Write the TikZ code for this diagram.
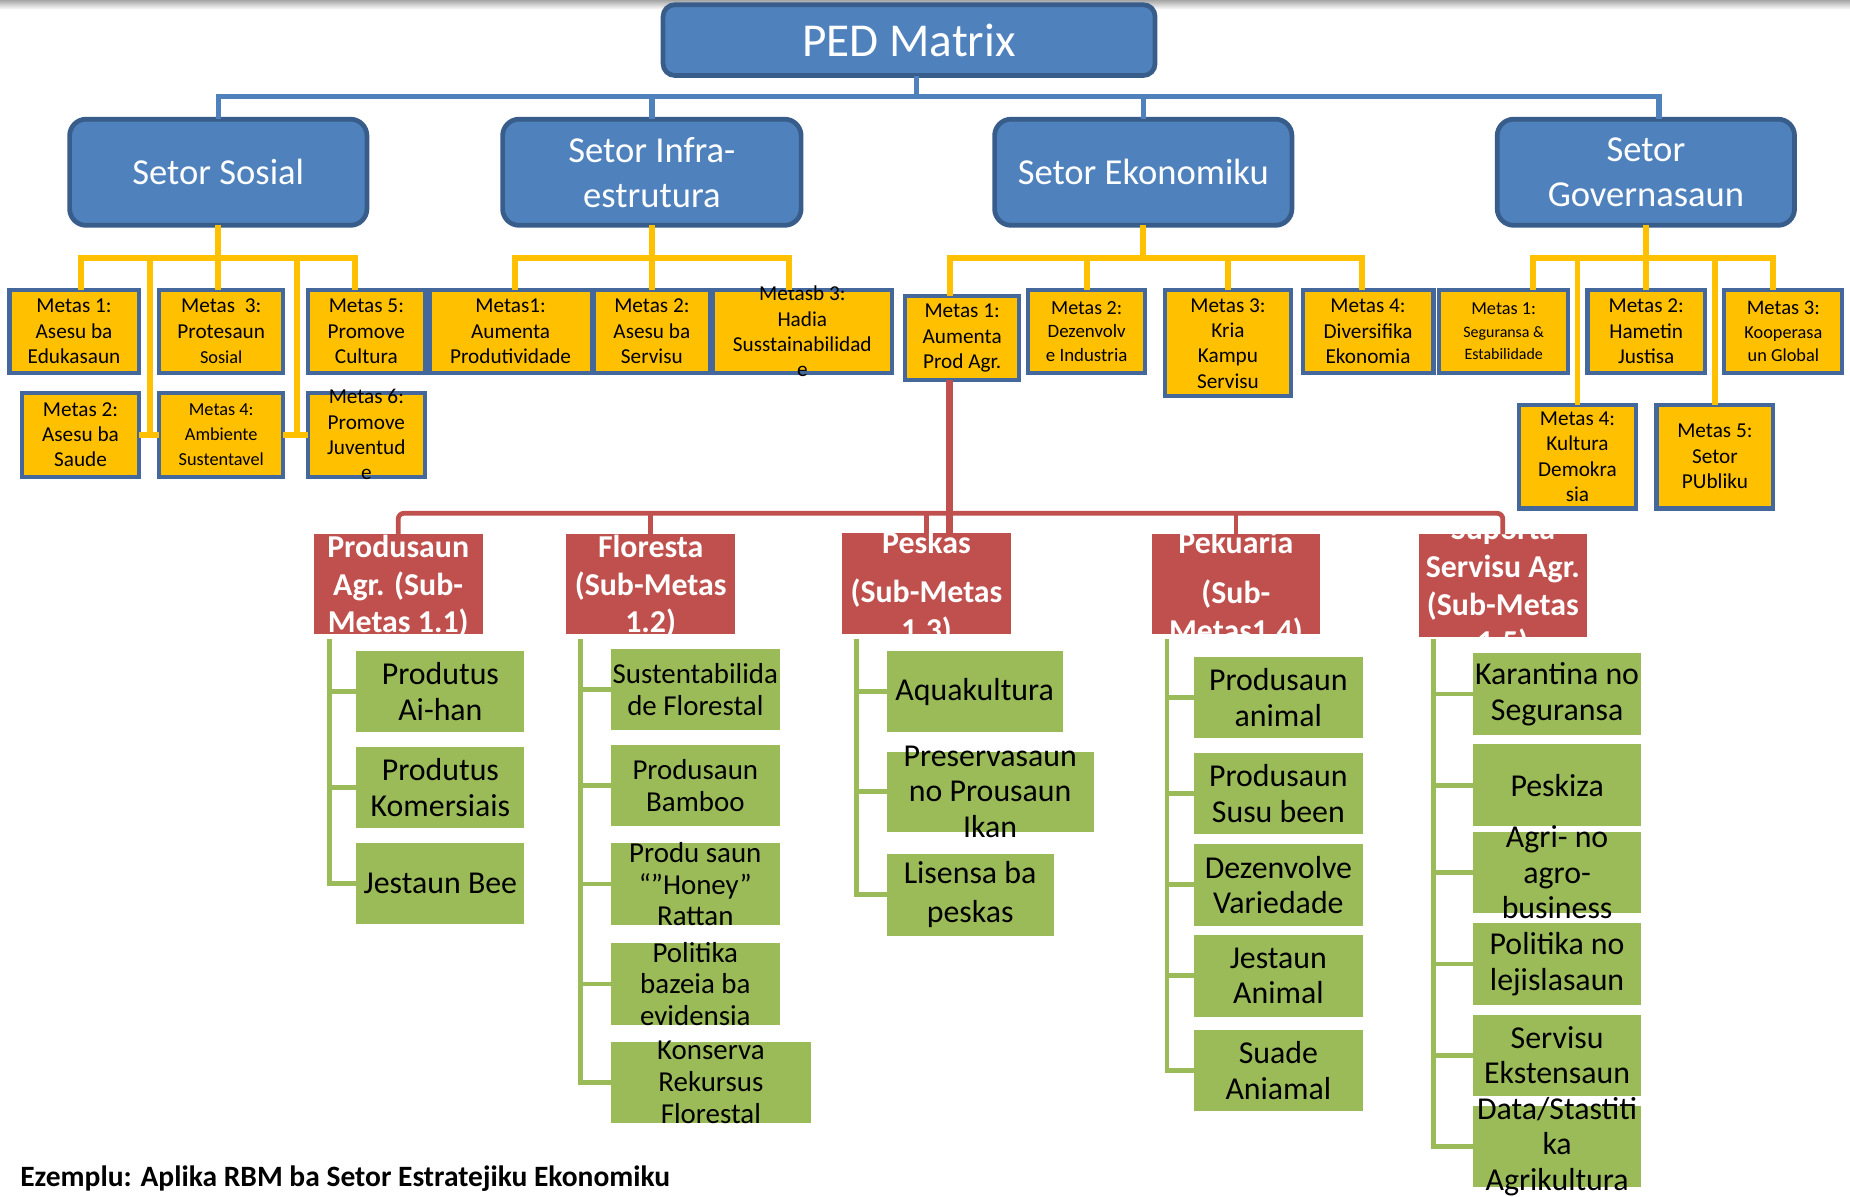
\documentclass[tikz,border=0pt]{standalone}
\usepackage{fontspec}
\setmainfont{Carlito}
\definecolor{blueC}{HTML}{4F81BD}
\definecolor{blueD}{HTML}{385D8A}
\definecolor{yelC}{HTML}{FFC000}
\definecolor{yelB}{HTML}{44689C}
\definecolor{redC}{HTML}{C0504D}
\definecolor{greenC}{HTML}{9BBB59}
\newcommand\mkbox[6]{%
 \pgfmathsetmacro\mkw{#5-#3}%
 \pgfmathsetmacro\mkh{#6-#4}%
 \pgfmathsetmacro\mkx{(#3+#5)/2}%
 \pgfmathsetmacro\mky{-(#4+#6)/2}%
 \node[#1,minimum width=\mkw pt,minimum height=\mkh pt,inner sep=0pt,outer sep=0pt] (#2) at (\mkx pt,\mky pt) {};}
\newcommand\mktext[3]{\node[#1] (#2t) at (#2) {#3};}
\newcommand\mkclip[3]{\begin{scope}\clip (#2.south west) rectangle (#2.north east);\node[#1] (#2t) at (#2) {#3};\end{scope}}
\begin{document}
\begin{tikzpicture}[x=1pt,y=1pt,
 bluebox/.style={draw=blueD,line width=4pt,fill=blueC,rounded corners=14pt},
 ybox/.style={draw=yelB,line width=3.5pt,fill=yelC},
 rbox/.style={fill=redC},
 gbox/.style={fill=greenC},
 ytxt/.style={align=center,font=\fontsize{18}{21.5}\selectfont,inner sep=0pt},
 gtxt/.style={align=center,font=\fontsize{27}{30}\selectfont,inner sep=0pt},
 ftxt/.style={align=center,font=\fontsize{24.5}{27}\selectfont,inner sep=0pt},
 rtxt/.style={align=center,text=white,font=\bfseries\fontsize{27}{32}\selectfont,inner sep=0pt},
 btxt/.style={align=center,text=white,font=\fontsize{31}{38}\selectfont,inner sep=0pt},
 bcon/.style={draw=blueC,line width=4.5pt},
 ycon/.style={draw=yelC,line width=5pt},
 rcon/.style={draw=redC,line width=4pt},
 gcon/.style={draw=greenC,line width=4pt}]
\useasboundingbox (0,0) rectangle (1568,-1014);
\clip (0,0) rectangle (1568,-1014);
\fill[white] (0,0) rectangle (1568,-1014);
\shade[top color=black!35,bottom color=white] (0,0) rectangle (1568,-8);
% blue boxes
\mkbox{bluebox,rounded corners=10pt}{ped}{562}{4}{979}{64}
\mkbox{bluebox}{sosial}{59}{101}{311}{191}
\mkbox{bluebox}{infra}{426}{101}{679}{191}
\mkbox{bluebox}{ekon}{843}{101}{1095}{191}
\mkbox{bluebox}{gov}{1269}{101}{1521}{191}
\mktext{btxt,font=\fontsize{40}{44}\selectfont}{ped}{PED Matrix}
\mktext{btxt}{sosial}{Setor Sosial}
\mktext{btxt}{infra}{Setor Infra-\\estrutura}
\mktext{btxt}{ekon}{Setor Ekonomiku}
\mktext{btxt}{gov}{Setor\\Governasaun}
% yellow boxes
\mkbox{ybox}{s1}{8}{246}{117.5}{316}
\mkbox{ybox}{s3}{135}{246}{240}{316}
\mkbox{ybox}{s5}{261}{246}{360}{316}
\mkbox{ybox}{s2}{19}{333}{117.5}{404}
\mkbox{ybox}{s4}{135}{333}{240}{404}
\mkbox{ybox}{s6}{261}{333}{360}{404}
\mkbox{ybox}{i1}{364}{246}{501.5}{316}
\mkbox{ybox}{i2}{503.5}{246}{601.5}{316}
\mkbox{ybox}{i3}{604}{246}{756}{316}
\mkbox{ybox}{e1}{767}{251}{864}{322}
\mkbox{ybox}{e2}{871.5}{246}{970.5}{316}
\mkbox{ybox}{e3}{987.5}{246}{1094}{336}
\mkbox{ybox}{e4}{1104}{246}{1215}{316}
\mkbox{ybox}{g1}{1220}{246}{1329}{316}
\mkbox{ybox}{g2}{1345.5}{246}{1445}{316}
\mkbox{ybox}{g3}{1461.5}{246}{1561.5}{316}
\mkbox{ybox}{g4}{1287.5}{343}{1386.5}{431}
\mkbox{ybox}{g5}{1404}{343}{1503}{431}
\mktext{ytxt}{s1}{Metas 1:\\Asesu ba\\Edukasaun}
\mktext{ytxt}{s3}{Metas\ \ 3:\\Protesaun\\{\fontsize{15.5}{18}\selectfont Sosial}}
\mktext{ytxt}{s5}{Metas 5:\\Promove\\Cultura}
\mktext{ytxt}{s2}{Metas 2:\\Asesu ba\\Saude}
\mktext{ytxt,font=\fontsize{15.5}{21}\selectfont}{s4}{Metas 4:\\Ambiente\\Sustentavel}
\mktext{ytxt}{s6}{Metas 6:\\Promove\\Juventud\\e}
\mktext{ytxt}{i1}{Metas1:\\Aumenta\\Produtividade}
\mktext{ytxt}{i2}{Metas 2:\\Asesu ba\\Servisu}
\mktext{ytxt}{i3}{Metasb 3:\\Hadia\\Susstainabilidad\\e}
\mktext{ytxt}{e1}{Metas 1:\\Aumenta\\Prod Agr.}
\mktext{ytxt,font=\fontsize{16}{20}\selectfont}{e2}{{\fontsize{17}{20}\selectfont Metas 2:}\\Dezenvolv\\e Industria}
\mktext{ytxt}{e3}{Metas 3:\\Kria\\Kampu\\Servisu}
\mktext{ytxt}{e4}{Metas 4:\\Diversifika\\Ekonomia}
\mktext{ytxt,font=\fontsize{13.5}{19}\selectfont}{g1}{{\fontsize{15.5}{19}\selectfont Metas 1:}\\Seguransa \&\\Estabilidade}
\mktext{ytxt}{g2}{Metas 2:\\Hametin\\Justisa}
\mktext{ytxt,font=\fontsize{15.5}{20}\selectfont}{g3}{{\fontsize{17.5}{20}\selectfont Metas 3:}\\Kooperasa\\un Global}
\mktext{ytxt}{g4}{Metas 4:\\Kultura\\Demokra\\sia}
\mktext{ytxt}{g5}{Metas 5:\\Setor\\PUbliku}
% red boxes
\mkbox{rbox}{r1}{266}{453}{409}{537}
\mkbox{rbox}{r2}{480}{453}{623}{537}
\mkbox{rbox}{r3}{713.5}{452}{857}{537}
\mkbox{rbox}{r4}{976}{453}{1119}{537}
\mkbox{rbox}{r5}{1202.5}{453}{1345}{540}
\mkclip{rtxt,yshift=-2pt}{r1}{Produsaun\\Agr. (Sub-\\Metas 1.1)}
\mkclip{rtxt,yshift=-2pt}{r2}{Floresta\\(Sub-Metas\\1.2)}
\mkclip{rtxt,yshift=-4pt}{r3}{Peskas\\[10pt](Sub-Metas\\1.3)}
\mkclip{rtxt,yshift=-4pt}{r4}{Pekuaria\\[10pt](Sub-\\Metas1.4)}
\mkclip{rtxt,yshift=-2pt}{r5}{Suporta\\Servisu Agr.\\(Sub-Metas\\1.5)}
% green boxes
\mkbox{gbox}{p1}{302}{552}{444.5}{620.6}
\mkbox{gbox}{p2}{302}{633}{444.5}{702}
\mkbox{gbox}{p3}{302}{714.5}{444.5}{783}
\mkbox{gbox}{f1}{518}{550}{660.7}{619}
\mkbox{gbox}{f2}{518}{631.5}{660.7}{700}
\mkbox{gbox}{f3}{518}{714.7}{660.7}{784}
\mkbox{gbox}{f4}{518}{799.4}{660.7}{868.6}
\mkbox{gbox}{f5}{518}{882.8}{687}{952}
\mkbox{gbox}{k1}{751.5}{551.7}{900.7}{620.6}
\mkbox{gbox}{k2}{751.5}{637}{927}{705}
\mkbox{gbox}{k3}{751.5}{723.7}{893}{793}
\mkbox{gbox}{l1}{1012}{556.5}{1155}{625.7}
\mkbox{gbox}{l2}{1012}{638}{1155}{707}
\mkbox{gbox}{l3}{1012}{715.3}{1155}{784.5}
\mkbox{gbox}{l4}{1012}{792.4}{1155}{861.6}
\mkbox{gbox}{l5}{1012}{873}{1155}{942}
\mkbox{gbox}{t1}{1248.5}{553.7}{1391}{622.9}
\mkbox{gbox}{t2}{1248.5}{631}{1391}{700}
\mkbox{gbox}{t3}{1248.5}{704.8}{1391}{774}
\mkbox{gbox}{t4}{1248.5}{782.5}{1391}{851.7}
\mkbox{gbox}{t5}{1248.5}{860}{1391}{928.8}
\mkbox{gbox}{t6}{1248.5}{937.3}{1391}{1006}
\mktext{gtxt}{p1}{Produtus\\Ai-han}
\mktext{gtxt}{p2}{Produtus\\Komersiais}
\mktext{gtxt}{p3}{Jestaun Bee}
\mktext{ftxt}{f1}{Sustentabilida\\de Florestal}
\mktext{ftxt}{f2}{Produsaun\\Bamboo}
\mktext{ftxt}{f3}{Produ saun\\“”Honey”\\Rattan}
\mktext{ftxt}{f4}{Politika\\bazeia ba\\evidensia}
\mktext{ftxt}{f5}{Konserva\\Rekursus\\Florestal}
\mktext{gtxt}{k1}{Aquakultura}
\mktext{gtxt}{k2}{Preservasaun\\no Prousaun\\Ikan}
\mktext{gtxt,font=\fontsize{27}{33}\selectfont}{k3}{Lisensa ba\\peskas}
\mktext{gtxt}{l1}{Produsaun\\animal}
\mktext{gtxt}{l2}{Produsaun\\Susu been}
\mktext{gtxt}{l3}{Dezenvolve\\Variedade}
\mktext{gtxt}{l4}{Jestaun\\Animal}
\mktext{gtxt}{l5}{Suade\\Aniamal}
\mktext{gtxt}{t1}{Karantina no\\Seguransa}
\mktext{gtxt}{t2}{Peskiza}
\mktext{gtxt}{t3}{Agri- no\\agro-\\business}
\mktext{gtxt}{t4}{Politika no\\lejislasaun}
\mktext{gtxt}{t5}{Servisu\\Ekstensaun}
\mktext{gtxt}{t6}{Data/Stastiti\\ka\\Agrikultura}
% blue connectors
\coordinate (bbar) at (0,-82);
\coordinate (gvx) at (1406,0);
\coordinate (pedb) at ([xshift=6pt]ped.south);
\draw[bcon] (pedb) -- (pedb |- bbar);
\draw[bcon] (sosial.north) -- (sosial.north |- bbar) -- (gvx |- bbar) -- (gvx |- gov.north);
\draw[bcon] (infra.north) -- (infra.north |- bbar);
\draw[bcon] (ekon.north) -- (ekon.north |- bbar);
% yellow connectors
\coordinate (ybar) at (0,-219);
\coordinate (sx1) at (68.5,0);
\coordinate (sx5) at (301,0);
\draw[ycon] (sx1 |- s1.north) -- (sx1 |- ybar) -- (sx5 |- ybar) -- (sx5 |- s5.north);
\draw[ycon] (sosial.south) -- (sosial.south |- s3.north);
\coordinate (sx2) at (127,0);
\coordinate (sx4) at (252,0);
\draw[ycon] (sx2 |- ybar) -- (sx2 |- s2.east);
\draw[ycon] (s2.east) -- (s4.west);
\draw[ycon] (sx4 |- ybar) -- (sx4 |- s4.east);
\draw[ycon] (s4.east) -- (s6.west);
\coordinate (ix1) at (436.5,0);
\coordinate (ix3) at (669,0);
\draw[ycon] (ix1 |- i1.north) -- (ix1 |- ybar) -- (ix3 |- ybar) -- (ix3 |- i3.north);
\draw[ycon] (infra.south) -- (infra.south |- i2.north);
\coordinate (ex1) at (805,0);
\coordinate (ex4) at (1154,0);
\draw[ycon] (ex1 |- e1.north) -- (ex1 |- ybar) -- (ex4 |- ybar) -- (ex4 |- e4.north);
\draw[ycon] (e2.north) -- (e2.north |- ybar);
\draw[ycon] (e3.north) -- (e3.north |- ybar);
\draw[ycon] (ekon.south) -- (ekon.south |- ybar);
\coordinate (gx1) at (1299,0);
\coordinate (gx3) at (1502.5,0);
\draw[ycon] (gx1 |- g1.north) -- (gx1 |- ybar) -- (gx3 |- ybar) -- (gx3 |- g3.north);
\draw[ycon] (gov.south) -- (gov.south |- g2.north);
\draw[ycon] (g4.north) -- (g4.north |- ybar);
\draw[ycon] (g5.north) -- (g5.north |- ybar);
% red connectors
\coordinate (rbar) at (0,-435);
\draw[rcon,rounded corners=5pt] (r1.north) -- (r1.north |- rbar) -- (r5.north |- rbar) -- (r5.north);
\foreach \n in {r2,r3,r4} \draw[rcon] (\n.north) -- (\n.north |- rbar);
\draw[rcon,line width=6pt] (ex1 |- e1.south) -- (ex1 |- r3.north);
% green connectors
\coordinate (gv1) at ([xshift=13pt,yshift=-5pt]r1.south west);
\draw[gcon] (gv1) -- (gv1 |- p3.west) -- (p3.west);
\foreach \c in {p1,p2} \draw[gcon] (gv1 |- \c.west) -- (\c.west);
\coordinate (gv2) at ([xshift=12pt,yshift=-5pt]r2.south west);
\draw[gcon] (gv2) -- (gv2 |- f5.west) -- (f5.west);
\foreach \c in {f1,f2,f3,f4} \draw[gcon] (gv2 |- \c.west) -- (\c.west);
\coordinate (gv3) at ([xshift=12.5pt,yshift=-5pt]r3.south west);
\draw[gcon] (gv3) -- (gv3 |- k3.west) -- (k3.west);
\foreach \c in {k1,k2} \draw[gcon] (gv3 |- \c.west) -- (\c.west);
\coordinate (gv4) at ([xshift=13pt,yshift=-5pt]r4.south west);
\draw[gcon] (gv4) -- (gv4 |- l5.west) -- (l5.west);
\foreach \c in {l1,l2,l3,l4} \draw[gcon] (gv4 |- \c.west) -- (\c.west);
\coordinate (gv5) at ([xshift=12.5pt,yshift=-2pt]r5.south west);
\draw[gcon] (gv5) -- (gv5 |- t6.west) -- (t6.west);
\foreach \c in {t1,t2,t3,t4,t5} \draw[gcon] (gv5 |- \c.west) -- (\c.west);
% caption
\node[anchor=base west,inner sep=0pt,font=\bfseries\fontsize{25}{30}\selectfont] (cap) at (17,-1006) {Ezemplu: Aplika RBM ba Setor Estratejiku Ekonomiku};
\end{tikzpicture}
\end{document}
